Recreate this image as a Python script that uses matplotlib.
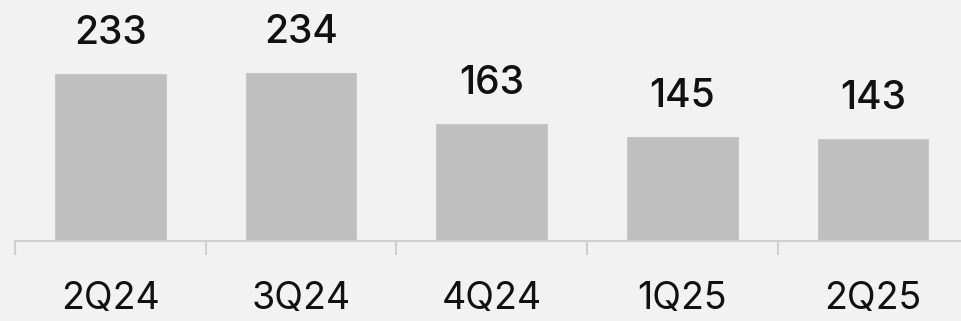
import matplotlib
matplotlib.use('agg')
import matplotlib.pyplot as plt
import numpy as np

quarters = ['2Q24', '3Q24', '4Q24', '1Q25', '2Q25']
values = [233, 234, 163, 145, 143]

bg = '#f2f2f2'
bar_color = '#bfbfbf'
line_color = '#cfcfcf'

plt.rcParams['font.family'] = ['Inter', 'DejaVu Sans']

fig = plt.figure(figsize=(9.61, 3.21), dpi=100, facecolor=bg)
# axes spans slightly past the right edge so the last category is cut off
ax = fig.add_axes([15 / 961, 80 / 321, 953.5 / 961, 215 / 321])
ax.set_facecolor(bg)

x = np.arange(len(quarters))
bars = ax.bar(x, values, width=0.58, color=bar_color, edgecolor='#c8c8c8', linewidth=0.8, zorder=2)

for xi, v in zip(x, values):
    ax.annotate(str(v), (xi, v), xytext=(0, 21.5), textcoords='offset points',
                ha='center', va='baseline', fontsize=28, fontweight='medium', color='#111111')

ax.set_xlim(-0.5, len(quarters) - 0.5)
ax.set_ylim(0, 300)

for s in ['top', 'right', 'left']:
    ax.spines[s].set_visible(False)
ax.spines['bottom'].set_color(line_color)
ax.spines['bottom'].set_linewidth(1.5)
ax.set_yticks([])

ax.set_xticks(x)
ax.set_xticklabels(quarters, fontsize=27, color='#111111')
ax.tick_params(axis='x', which='major', length=0, pad=29)
ax.set_xticks(np.arange(-0.5, len(quarters), 1.0), minor=True)
ax.tick_params(axis='x', which='minor', length=10, width=1.5, color=line_color, direction='out')

fig.savefig('out.png', dpi=100, facecolor=bg)
